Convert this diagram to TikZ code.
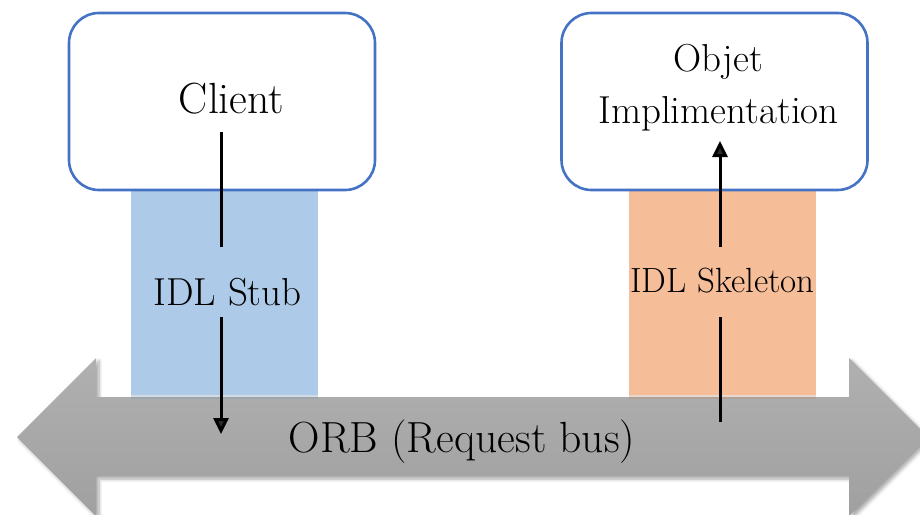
\documentclass[tikz,border=0pt]{standalone}
\usetikzlibrary{arrows.meta,shadows.blur}
\definecolor{boxblue}{RGB}{68,114,196}
\definecolor{stubfill}{RGB}{173,203,233}
\definecolor{skelfill}{RGB}{245,189,152}
\definecolor{bustop}{RGB}{176,176,176}
\definecolor{busbot}{RGB}{160,160,160}
\begin{document}
\begin{tikzpicture}[x=0.5pt,y=-0.5pt,
  roundbox/.style={draw=boxblue,line width=1.3pt,rounded corners=15pt,fill=white,
    minimum width=153pt,minimum height=88.5pt,inner sep=0pt},
  layer/.style={minimum width=93.5pt,minimum height=102.5pt,inner sep=0pt,draw=none},
  lbl/.style={inner sep=0pt,anchor=base},
  flow/.style={line width=1.5pt},
  flowtip/.style={flow,-{Triangle[width=7.5pt,length=8pt]}}]
  \useasboundingbox (0,0) rectangle (920,514);
  \clip (0,0) rectangle (920,514);

  % request bus: double-headed block arrow
  \path[top color=bustop,bottom color=busbot,
        blur shadow={shadow xshift=1.5pt,shadow yshift=-1.5pt,shadow opacity=35,shadow blur steps=6}]
    (17,437) -- (96,358) -- (96,397) -- (849,397) -- (849,358) -- (928,437)
    -- (849,516) -- (849,476) -- (96,476) -- (96,516) -- cycle;
  \node[lbl,font=\fontsize{21.8}{26}\selectfont] (orb) at (462,452) {ORB (Request bus)};

  % stub and skeleton layers
  \node[layer,fill=stubfill] (stub) at (224.5,292.5) {};
  \node[layer,fill=skelfill] (skel) at (722.5,292.5) {};
  \fill[stubfill!75!black,opacity=0.35] (stub.south west) rectangle ([yshift=-2pt]stub.south east);
  \fill[skelfill!75!black,opacity=0.35] (skel.south west) rectangle ([yshift=-2pt]skel.south east);
  \node[lbl,font=\fontsize{19.5}{23}\selectfont] (stubtext) at (227.5,305) {IDL Stub};
  \node[lbl,font=\fontsize{17.5}{21}\selectfont] (skeltext) at (722.5,292) {IDL Skeleton};

  % client and object boxes
  \node[roundbox] (client) at (222,101.5) {};
  \node[roundbox] (impl) at (714.5,101.5) {};
  \node[lbl,font=\fontsize{21.8}{26}\selectfont] (clienttext) at (231.5,113) {Client};
  \node[align=center,inner sep=0pt,font=\fontsize{19.5}{26}\selectfont] (impltext) at (718.5,88)
    {Objet\\Implimentation};

  % request path: client -> stub -> bus
  \coordinate (c1) at (221,132);
  \coordinate (c2) at (221,247);
  \coordinate (c3) at (221,317);
  \coordinate (c4) at (221,434);
  \draw[flow] (c1) -- (c2);
  \draw[flowtip] (c3) -- (c4);

  % dispatch path: bus -> skeleton -> implementation
  \coordinate (s1) at (720,422);
  \coordinate (s2) at (720,317);
  \coordinate (s3) at (720,247);
  \coordinate (s4) at (720,141);
  \draw[flow] (s1) -- (s2);
  \draw[flowtip] (s3) -- (s4);
\end{tikzpicture}
\end{document}
